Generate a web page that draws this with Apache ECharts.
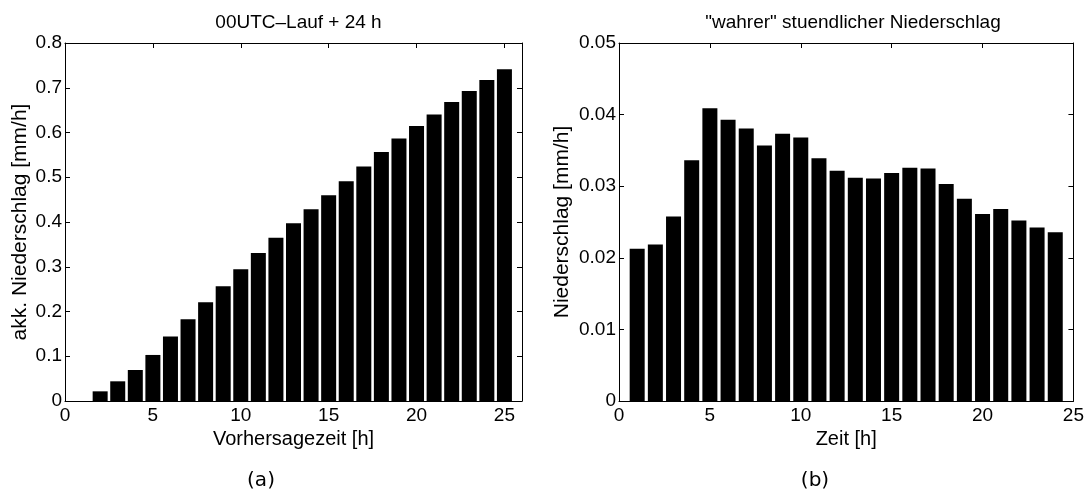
<!DOCTYPE html>
<html>
<head>
<meta charset="utf-8">
<script src="https://cdn.jsdelivr.net/npm/echarts@6/dist/echarts.min.js"></script>
<style>
html,body{margin:0;padding:0;background:#fff;}
#chart{width:1087px;height:493px;}
</style>
</head>
<body>
<div id="chart"></div>
<script>
// Left panel: accumulated precipitation, forecast time 2..25 h
const leftHours = [2,3,4,5,6,7,8,9,10,11,12,13,14,15,16,17,18,19,20,21,22,23,24,25];
const leftValues = [0.0216,0.044,0.0693,0.1029,0.1439,0.1827,0.2207,0.2565,0.2945,0.331,0.3646,0.3974,
                    0.4287,0.46,0.4913,0.5241,0.5562,0.5868,0.6143,0.6404,0.668,0.6926,0.7172,0.7411];
// Right panel: "true" hourly precipitation, time 1..24 h
const rightHours = [1,2,3,4,5,6,7,8,9,10,11,12,13,14,15,16,17,18,19,20,21,22,23,24];
const rightValues = [0.02125,0.02185,0.02577,0.03364,0.04087,0.03928,0.03807,0.0357,0.03733,0.03681,0.03392,0.03215,
                     0.03117,0.03108,0.03183,0.03257,0.03248,0.03029,0.02824,0.0261,0.0268,0.02521,0.02423,0.02358];
const xTicksLabels = [0,5,10,15,20,25];

const titles = ['00UTC\u2013Lauf + 24 h', '"wahrer" stuendlicher Niederschlag'];
const xNames = ['Vorhersagezeit [h]', 'Zeit [h]'];
const yNames = ['akk. Niederschlag [mm/h]', 'Niederschlag [mm/h]'];
const captions = ['(a)', '(b)'];

const FONT = 'Liberation Sans';
const chart = echarts.init(document.getElementById('chart'), null, {renderer:'canvas'});

const grids = [
  {left:65, top:43, width:457, height:358},
  {left:619, top:43, width:458, height:358}
];
const xMax = [26, 25];
const yMax = [0.8, 0.05];
const yInt = [0.1, 0.01];
const yNameGap = [34, 46];
const captionX = [256, 810];

function xLabelFmt(v){ return xTicksLabels.indexOf(v) >= 0 ? String(v) : ''; }

const xAxes = [], yAxes = [], series = [];
for (let i = 0; i < 2; i++) {
  xAxes.push({
    gridIndex:i, type:'value', min:0, max:xMax[i], interval:5, position:'bottom',
    name:xNames[i], nameLocation:'middle', nameGap:21,
    nameTextStyle:{fontFamily:FONT, fontSize:20, color:'#000'},
    axisLine:{show:true, onZero:false, lineStyle:{color:'#000', width:1}},
    axisTick:{show:true, inside:true, length:5, lineStyle:{color:'#000'}},
    axisLabel:{fontFamily:FONT, fontSize:19, color:'#000', margin:5, formatter:xLabelFmt, showMaxLabel:true},
    splitLine:{show:false}
  });
  xAxes.push({
    gridIndex:i, type:'value', min:0, max:xMax[i], interval:5, position:'top',
    axisLine:{show:true, onZero:false, lineStyle:{color:'#000', width:1}},
    axisTick:{show:true, inside:true, length:5, lineStyle:{color:'#000'}},
    axisLabel:{show:false}, splitLine:{show:false}
  });
  yAxes.push({
    gridIndex:i, type:'value', min:0, max:yMax[i], interval:yInt[i], position:'left',
    name:yNames[i], nameLocation:'middle', nameGap:yNameGap[i], nameRotate:90,
    nameTextStyle:{fontFamily:FONT, fontSize:21, color:'#000'},
    axisLine:{show:true, onZero:false, lineStyle:{color:'#000', width:1}},
    axisTick:{show:true, inside:true, length:5, lineStyle:{color:'#000'}},
    axisLabel:{fontFamily:FONT, fontSize:19, color:'#000', margin:3},
    splitLine:{show:false}
  });
  yAxes.push({
    gridIndex:i, type:'value', min:0, max:yMax[i], interval:yInt[i], position:'right',
    axisLine:{show:true, onZero:false, lineStyle:{color:'#000', width:1}},
    axisTick:{show:true, inside:true, length:5, lineStyle:{color:'#000'}},
    axisLabel:{show:false}, splitLine:{show:false}
  });
}

series.push({
  type:'bar', xAxisIndex:0, yAxisIndex:0, barWidth:15,
  data: leftHours.map((h,k)=>[h, leftValues[k]]),
  itemStyle:{color:'#000'}, silent:true, animation:false
});
series.push({
  type:'bar', xAxisIndex:2, yAxisIndex:2, barWidth:15,
  data: rightHours.map((h,k)=>[h, rightValues[k]]),
  itemStyle:{color:'#000'}, silent:true, animation:false
});

const titleOpts = [];
for (let i = 0; i < 2; i++) {
  const cx = grids[i].left + grids[i].width/2;
  titleOpts.push({
    text:titles[i], left:cx, top:8, textAlign:'center',
    textStyle:{fontFamily:FONT, fontSize:19, fontWeight:'normal', color:'#000'}
  });
  titleOpts.push({
    text:captions[i], left:captionX[i], top:466, textAlign:'center',
    textStyle:{fontFamily:'DejaVu Sans', fontSize:20, fontWeight:'normal', color:'#000'}
  });
}

chart.setOption({
  animation:false,
  backgroundColor:'#fff',
  title: titleOpts,
  grid: grids.map(g => Object.assign({containLabel:false}, g)),
  xAxis: xAxes,
  yAxis: yAxes,
  series: series
});
</script>
</body>
</html>
